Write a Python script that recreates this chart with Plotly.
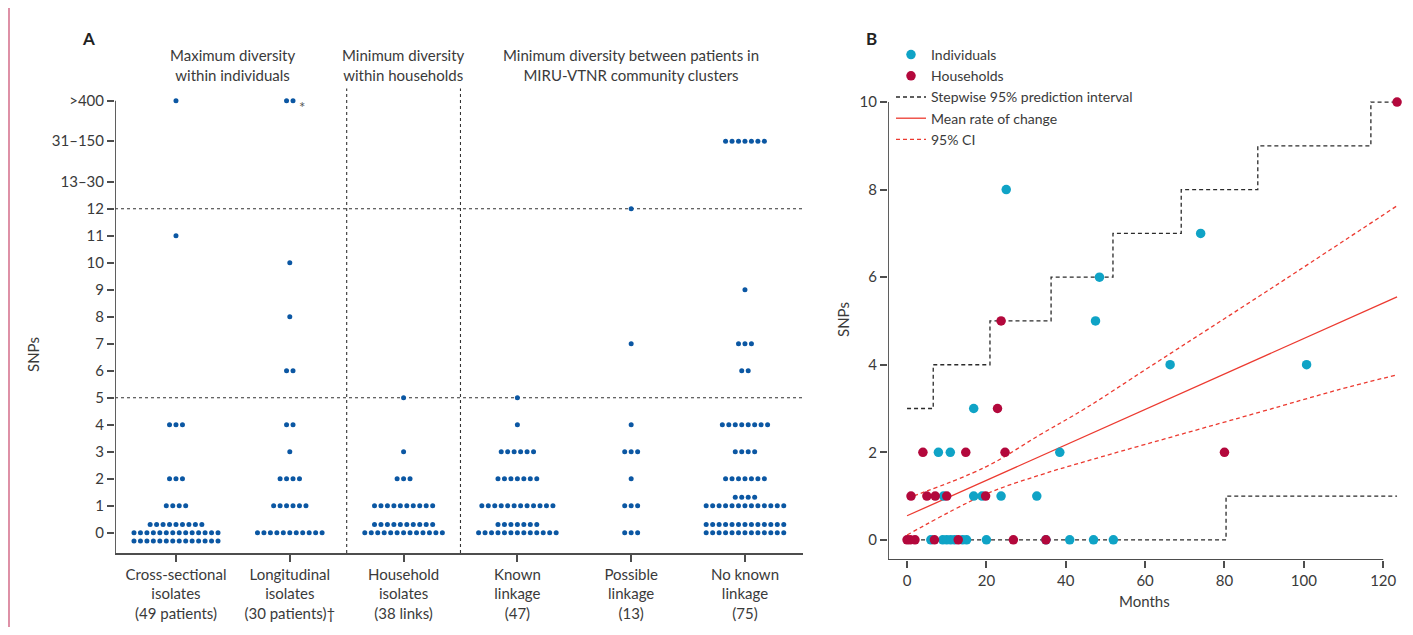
import plotly.graph_objects as go

# ---------------- Panel A data ----------------
CATEGORY_LABELS = [
    "Cross-sectional<br>isolates<br>(49 patients)",
    "Longitudinal<br>isolates<br>(30 patients)†",
    "Household<br>isolates<br>(38 links)",
    "Known<br>linkage<br>(47)",
    "Possible<br>linkage<br>(13)",
    "No known<br>linkage<br>(75)",
]
SNP_BINS = ["0", "1", "2", "3", "4", "5", "6", "7", "8", "9", "10", "11", "12",
            "13–30", "31–150", ">400"]
SNP_BIN_AXIS = [0, 1, 2, 3, 4, 5, 6, 7, 8, 9, 10, 11, 12, 13, 14.5, 16]

# (SNP bin, dots per swarm row: [main row, row above, row below])
cross_sectional = [("0", [14, 9, 14]), ("1", [4]), ("2", [3]), ("4", [3]),
                   ("11", [1]), (">400", [1])]
longitudinal = [("0", [11]), ("1", [6]), ("2", [4]), ("3", [1]), ("4", [2]),
                ("6", [2]), ("8", [1]), ("10", [1]), (">400", [2])]
household = [("0", [13, 10]), ("1", [10]), ("2", [3]), ("3", [1]), ("5", [1])]
known_linkage = [("0", [13, 7]), ("1", [12]), ("2", [7]), ("3", [6]),
                 ("4", [1]), ("5", [1])]
possible_linkage = [("0", [3]), ("1", [3]), ("2", [1]), ("3", [3]), ("4", [1]),
                    ("7", [1]), ("12", [1])]
no_known_linkage = [("0", [13, 13]), ("1", [13, 4]), ("2", [7]), ("3", [4]),
                    ("4", [8]), ("6", [2]), ("7", [3]), ("9", [1]),
                    ("31–150", [7])]
GROUPS = [cross_sectional, longitudinal, household, known_linkage,
          possible_linkage, no_known_linkage]

# ---------------- Panel B data ----------------
ind_months = [25, 74, 48.5, 47.5, 66.3, 100.7, 16.8, 7.9, 10.9, 38.5,
              9.2, 16.8, 18.9, 23.7, 32.7,
              6, 9, 10, 11, 12, 14, 15, 20, 35, 41, 47, 52]
ind_snps = [8, 7, 6, 5, 4, 4, 3, 2, 2, 2,
            1, 1, 1, 1, 1,
            0, 0, 0, 0, 0, 0, 0, 0, 0, 0, 0, 0]
hh_months = [123.5, 23.7, 22.8, 4.0, 14.8, 24.7, 80.0,
             1.0, 5.0, 7.1, 10.0, 19.8,
             0, 0.8, 2.0, 6.9, 12.9, 26.8, 35]
hh_snps = [10, 5, 3, 2, 2, 2, 2,
           1, 1, 1, 1, 1,
           0, 0, 0, 0, 0, 0, 0]

pi_upper_months = [0, 6.6, 20.9, 36.3, 51.9, 69.1, 88.4, 116.9, 123.5]
pi_upper_snps = [3, 4, 5, 6, 7, 8, 9, 10, 10]
pi_lower_months = [0, 80.4, 123.5]
pi_lower_snps = [0, 1, 1]

mean_months = [0, 123.5]
mean_snps = [0.55, 5.55]

ci_upper_months = [0, 19.7, 33.5, 44.9, 61.3, 92.4, 123.5]
ci_upper_snps = [0.95, 1.66, 2.40, 3.0, 3.96, 5.78, 7.63]
ci_lower_months = [0, 19.5, 33.5, 44.9, 89, 108.4, 123.5]
ci_lower_snps = [0.11, 1.03, 1.48, 1.79, 2.92, 3.42, 3.77]

# ---------------- Styling ----------------
OFF = 8  # page body margin
W, H = 1413 - 2 * OFF, 635 - 2 * OFF
FONT = "Lato"
TXT = "#3a3a3a"
AX = "#4d4d4d"
DOT_BLUE = "#0b57a3"
TEAL = "#0fa3c6"
CRIMSON = "#b3083c"
RED = "#ec3a30"


def px_x(p):
    return (p - OFF) / W


def px_y(p):
    return 1 - (p - OFF) / H


fig = go.Figure()

# Panel A swarm
ax_x, ax_y = [], []
dx, dy = 0.0568, 0.31
for ci, rows in enumerate(GROUPS):
    for snp_bin, counts in rows:
        base = SNP_BIN_AXIS[SNP_BINS.index(snp_bin)]
        for k, n in zip([0, 1, -1], counts):
            for i in range(n):
                ax_x.append(ci + (i - (n - 1) / 2) * dx)
                ax_y.append(base + k * dy)
fig.add_trace(go.Scatter(x=ax_x, y=ax_y, mode="markers", xaxis="x", yaxis="y",
                         marker=dict(size=5, color=DOT_BLUE), showlegend=False,
                         hoverinfo="skip"))

# Panel B lines
fig.add_trace(go.Scatter(x=pi_upper_months, y=pi_upper_snps, mode="lines",
                         line=dict(color="#2b2b2b", width=1.3, dash="4px,3px", shape="hv"),
                         xaxis="x2", yaxis="y2", name="Stepwise 95% prediction interval",
                         legendrank=3))
fig.add_trace(go.Scatter(x=pi_lower_months, y=pi_lower_snps, mode="lines",
                         line=dict(color="#2b2b2b", width=1.3, dash="4px,3px", shape="hv"),
                         xaxis="x2", yaxis="y2", showlegend=False))
fig.add_trace(go.Scatter(x=mean_months, y=mean_snps, mode="lines",
                         line=dict(color=RED, width=1.3),
                         xaxis="x2", yaxis="y2", name="Mean rate of change", legendrank=4))
fig.add_trace(go.Scatter(x=ci_upper_months, y=ci_upper_snps, mode="lines",
                         line=dict(color=RED, width=1.3, dash="4px,3px", shape="spline"),
                         xaxis="x2", yaxis="y2", name="95% CI", legendrank=5))
fig.add_trace(go.Scatter(x=ci_lower_months, y=ci_lower_snps, mode="lines",
                         line=dict(color=RED, width=1.3, dash="4px,3px", shape="spline"),
                         xaxis="x2", yaxis="y2", showlegend=False))

# Panel B points
fig.add_trace(go.Scatter(x=ind_months, y=ind_snps, mode="markers",
                         marker=dict(size=9.5, color=TEAL), xaxis="x2", yaxis="y2",
                         name="Individuals", legendrank=1))
fig.add_trace(go.Scatter(x=hh_months, y=hh_snps, mode="markers",
                         marker=dict(size=9.5, color=CRIMSON), xaxis="x2", yaxis="y2",
                         name="Households", legendrank=2))

tickfont = dict(family=FONT, size=15, color=TXT)

xa_range = [-0.536, 5.51]
ya_range = [-0.75, 16.5]
xb_range = [-4.8, 125.5]
yb_range = [-0.46, 10.3]

fig.update_layout(
    width=W, height=H,
    margin=dict(l=0, r=0, t=0, b=0),
    paper_bgcolor="white", plot_bgcolor="white",
    font=dict(family=FONT, size=15, color=TXT),
    xaxis=dict(domain=[px_x(115), px_x(803)], range=xa_range,
               tickvals=list(range(len(CATEGORY_LABELS))), ticktext=CATEGORY_LABELS,
               showgrid=False, zeroline=False, showline=True, linecolor=AX, linewidth=1.8,
               ticks="outside", ticklen=7, tickwidth=1.5, tickcolor=AX, tickfont=tickfont,
               anchor="y", fixedrange=True),
    yaxis=dict(domain=[px_y(553), px_y(87.2)], range=ya_range,
               tickvals=SNP_BIN_AXIS, ticktext=SNP_BINS,
               showgrid=False, zeroline=False, showline=False,
               ticks="outside", ticklen=7, tickwidth=1.5, tickcolor=AX, tickfont=tickfont,
               anchor="x", fixedrange=True),
    xaxis2=dict(domain=[px_x(888), px_x(1405)], range=xb_range,
                tickvals=[0, 20, 40, 60, 80, 100, 120],
                showgrid=False, zeroline=False, showline=False,
                ticks="outside", ticklen=7, tickwidth=1.5, tickcolor=AX, tickfont=tickfont,
                anchor="y2", fixedrange=True),
    yaxis2=dict(domain=[px_y(560), px_y(88.9)], range=yb_range,
                tickvals=[0, 2, 4, 6, 8, 10],
                showgrid=False, zeroline=False, showline=False,
                ticks="outside", ticklen=7, tickwidth=1.5, tickcolor=AX, tickfont=tickfont,
                anchor="x2", fixedrange=True),
    legend=dict(x=px_x(891), y=px_y(39), xanchor="left", yanchor="top",
                font=dict(family=FONT, size=14, color=TXT), bgcolor="rgba(0,0,0,0)",
                tracegroupgap=0, itemwidth=30),
)

shapes = []
dash_line = dict(color="#333333", width=1.1, dash="3px,3px")
for yv in (5, 12):
    shapes.append(dict(type="line", xref="x", yref="y", x0=xa_range[0], x1=xa_range[1],
                       y0=yv, y1=yv, line=dash_line, layer="below"))
for xv in (1.5, 2.5):
    shapes.append(dict(type="line", xref="x", yref="y", x0=xv, x1=xv,
                       y0=ya_range[0], y1=16.45, line=dash_line, layer="below"))
shapes.append(dict(type="line", xref="x", yref="y", x0=xa_range[0], x1=xa_range[0],
                   y0=ya_range[0], y1=16, line=dict(color=AX, width=1.8)))
shapes.append(dict(type="line", xref="x2", yref="y2", x0=xb_range[0], x1=xb_range[0],
                   y0=yb_range[0], y1=10, line=dict(color=AX, width=1.8)))
shapes.append(dict(type="line", xref="x2", yref="y2", x0=xb_range[0], x1=120,
                   y0=yb_range[0], y1=yb_range[0], line=dict(color=AX, width=1.8)))
shapes.append(dict(type="line", xref="paper", yref="paper", x0=px_x(9), x1=px_x(9),
                   y0=0, y1=1, line=dict(color="#c8476c", width=1.2)))
fig.update_layout(shapes=shapes)

ann = []


def add_text(text, x, y, xref="paper", yref="paper", size=15, color=TXT, angle=0):
    ann.append(dict(text=text, x=x, y=y, xref=xref, yref=yref, showarrow=False,
                    xanchor="center", yanchor="middle", textangle=angle,
                    font=dict(family=FONT, size=size, color=color)))


add_text("<b>A</b>", px_x(88), px_y(38), size=17, color="#222")
add_text("<b>B</b>", px_x(871), px_y(38), size=17, color="#222")
headers = [(0.5, "Maximum diversity<br>within individuals"),
           (2, "Minimum diversity<br>within households"),
           (4, "Minimum diversity between patients in<br>MIRU-VTNR community clusters")]
for xv, t in headers:
    add_text(t, xv, px_y(65), xref="x")
add_text("SNPs", px_x(33), px_y(355), angle=-90)
add_text("SNPs", px_x(843), px_y(320), angle=-90)
add_text("Months", px_x(1144), px_y(601))
add_text("*", 1.105, 15.75, xref="x", yref="y", size=15, color="#555")
fig.update_layout(annotations=ann)

fig.write_html("out.html")
